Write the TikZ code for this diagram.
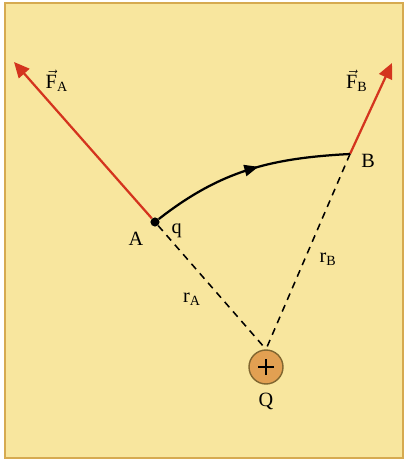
\documentclass[tikz,border=0pt]{standalone}
\usepackage{amsmath, amssymb}
\usepackage{fontspec}
\setmainfont{Liberation Serif}
\usepackage{tikz}
\usetikzlibrary{calc, arrows.meta, decorations.markings, positioning}

\definecolor{nen}{RGB}{248,230,158}
\definecolor{vien}{RGB}{214,170,80}
\definecolor{luc}{RGB}{212,52,30}
\definecolor{dien}{RGB}{226,160,82}

\tikzset{
  chu/.style={font=\Large},
  vectoluc/.style={luc, line width=1.6pt, -{Triangle[length=11pt, width=10pt]}},
  quydao/.style={line width=1.6pt, postaction={decorate},
    decoration={markings, mark=at position 0.55 with {\arrow{Triangle[length=10pt, width=8pt]}}}},
  bankinh/.style={line width=1.1pt, dash pattern=on 5pt off 4pt}
}

\begin{document}
\begin{tikzpicture}
\useasboundingbox (0,0) rectangle (10.175,11.525);
\fill[nen] (0.125,0.075) rectangle (10.075,11.45);
\draw[vien, line width=1pt] (0.125,0.075) rectangle (10.075,11.45);

% cac diem
\node[circle, fill=black, inner sep=2.3pt] (A) at (3.875,5.975) {};
\coordinate (B) at (8.75,7.675);
\node[circle, draw=vien!60!black, line width=1pt, fill=dien, minimum size=0.85cm, inner sep=0pt] (Q) at (6.65,2.35) {};
\draw[line width=1.8pt] ([xshift=-0.2cm]Q.center) -- ([xshift=0.2cm]Q.center)
  ([yshift=-0.2cm]Q.center) -- ([yshift=0.2cm]Q.center);
\coordinate (FA) at (0.35,9.975);
\coordinate (FB) at (9.8,9.95);

% nhan
\node[chu] (nA) at (3.4,5.55) {A};
\node[chu] (nq) at (4.42,5.75) {q};
\node[chu] (nB) at (9.2,7.5) {B};
\node[chu] (nQ) at (6.65,1.5) {Q};
\node[chu] (rA) at (4.8,4.05) {r$_{\text{A}}$};
\node[chu] (rB) at (8.2,5.05) {r$_{\text{B}}$};
\node[chu] (nFA) at (1.42,9.5) {$\vec{\text{F}}_{\text{A}}$};
\node[chu] (nFB) at (8.92,9.5) {$\vec{\text{F}}_{\text{B}}$};

% luc
\draw[vectoluc] (A) -- (FA);
\draw[vectoluc] (B) -- (FB);

% duong di
\draw[quydao] (A) to[out=38, in=183] (B);

% ban kinh
\draw[bankinh] (A) -- (Q.north);
\draw[bankinh] (B) -- (Q.north);
\end{tikzpicture}
\end{document}
